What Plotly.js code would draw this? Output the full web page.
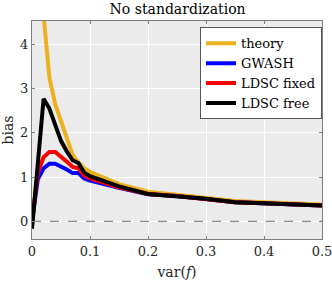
<!DOCTYPE html>
<html>
<head>
<meta charset="utf-8">
<script src="https://cdn.plot.ly/plotly-3.0.1.min.js"></script>
<style>html,body{margin:0;padding:0;background:#fff;}#chart{width:332px;height:283px;}</style>
</head>
<body>
<div id="chart"></div>
<script>
const xFull = [0, 0.01, 0.02, 0.03, 0.04, 0.05, 0.06, 0.07, 0.08, 0.09, 0.1, 0.15, 0.2, 0.25, 0.3, 0.35, 0.4, 0.45, 0.5];
const xTheory = [0.02, 0.03, 0.04, 0.05, 0.06, 0.07, 0.08, 0.09, 0.1, 0.15, 0.2, 0.25, 0.3, 0.35, 0.4, 0.45, 0.5];
const theory = [4.65, 3.25, 2.65, 2.25, 1.85, 1.5, 1.33, 1.2, 1.12, 0.84, 0.67, 0.6, 0.53, 0.46, 0.43, 0.41, 0.38];
const gwash = [0, 0.95, 1.2, 1.3, 1.3, 1.24, 1.17, 1.09, 1.09, 0.97, 0.92, 0.76, 0.61, 0.57, 0.5, 0.43, 0.41, 0.39, 0.36];
const ldscFixed = [0, 1.1, 1.45, 1.57, 1.57, 1.47, 1.35, 1.23, 1.2, 1.04, 0.97, 0.77, 0.62, 0.57, 0.51, 0.43, 0.41, 0.39, 0.36];
const ldscFree = [-0.17, 1.3, 2.77, 2.55, 2.2, 1.82, 1.58, 1.38, 1.32, 1.1, 1.02, 0.79, 0.62, 0.57, 0.51, 0.43, 0.41, 0.39, 0.36];
const xTicks = [0, 0.1, 0.2, 0.3, 0.4, 0.5];
const xTickText = ['0', '0.1', '0.2', '0.3', '0.4', '0.5'];
const yTicks = [0, 1, 2, 3, 4];

const font = "'DejaVu Serif', serif";
const traces = [
  {x: [0, 0.5], y: [0, 0], mode: 'lines', line: {color: '#8c8c8c', width: 1.3, dash: 'dash'}, showlegend: false, hoverinfo: 'skip'},
  {x: xTheory, y: theory, name: 'theory', mode: 'lines', line: {color: '#EDB120', width: 4}},
  {x: xFull, y: gwash, name: 'GWASH', mode: 'lines', line: {color: '#0000FF', width: 4}},
  {x: xFull, y: ldscFixed, name: 'LDSC fixed', mode: 'lines', line: {color: '#FF0000', width: 4}},
  {x: xFull, y: ldscFree, name: 'LDSC free', mode: 'lines', line: {color: '#000000', width: 4}}
];
const axisCommon = {
  showgrid: true, gridcolor: '#ffffff', gridwidth: 1,
  zeroline: false, showline: true, linecolor: '#7f7f7f', linewidth: 1,
  mirror: 'ticks', ticks: 'inside', ticklen: 3, tickcolor: '#7f7f7f',
  ticklabeloverflow: 'allow',
  tickfont: {family: font, size: 13, color: '#262626'}
};
const layout = {
  width: 332, height: 283,
  margin: {l: 32, r: 10, t: 21, b: 44},
  paper_bgcolor: '#ffffff', plot_bgcolor: '#ebebeb',
  title: {text: 'No standardization', font: {family: font, size: 14, color: '#000'}, x: 0.535, xanchor: 'center', y: 0.985, yanchor: 'top'},
  xaxis: Object.assign({}, axisCommon, {range: [0, 0.5], tickvals: xTicks, ticktext: xTickText,
    title: {text: 'var(<i>f</i>)', font: {family: font, size: 14, color: '#262626'}, standoff: 9}}),
  yaxis: Object.assign({}, axisCommon, {range: [-0.4, 4.53], tickvals: yTicks,
    title: {text: 'bias', font: {family: font, size: 14, color: '#262626'}, standoff: 6}}),
  legend: {x: 1, xanchor: 'right', y: 0.971, yanchor: 'top', bgcolor: '#ffffff', bordercolor: '#555', borderwidth: 1,
    font: {family: font, size: 13, color: '#000'}, tracegroupgap: 0, itemwidth: 30},
  showlegend: true
};
Plotly.newPlot('chart', traces, layout, {displayModeBar: false, staticPlot: true});
</script>
</body>
</html>
